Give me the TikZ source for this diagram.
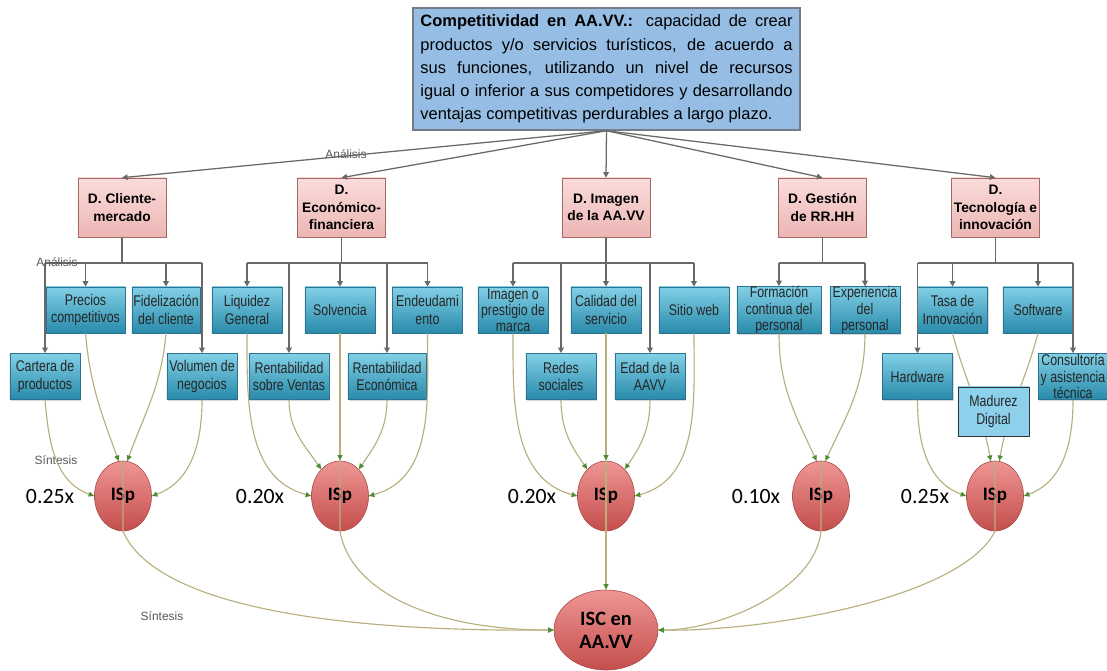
\documentclass[tikz,border=0pt]{standalone}
\usepackage{fontspec}
\setmainfont{Liberation Sans}
\newfontfamily\narrowsf[FakeStretch=0.8]{Liberation Sans}
\newfontfamily\calib{Carlito}
\usetikzlibrary{shapes.geometric, arrows.meta, shadows}

\definecolor{topfill}{RGB}{150,190,228}
\definecolor{topline}{RGB}{115,125,135}
\definecolor{dimtop}{RGB}{250,220,218}
\definecolor{dimbot}{RGB}{236,182,180}
\definecolor{dimline}{RGB}{165,105,103}
\definecolor{subtop}{RGB}{130,208,230}
\definecolor{subbot}{RGB}{40,138,170}
\definecolor{subline}{RGB}{45,115,145}
\definecolor{madfill}{RGB}{140,208,236}
\definecolor{isptop}{RGB}{238,150,148}
\definecolor{ispbot}{RGB}{196,78,76}
\definecolor{ispline}{RGB}{165,70,68}
\definecolor{linkline}{RGB}{185,175,125}
\definecolor{tipgreen}{RGB}{80,140,50}
\definecolor{treeline}{RGB}{105,105,105}

\tikzset{
    topbox/.style={
        rectangle, draw=topline, fill=topfill, line width=1pt,
        text width=9.3cm, inner xsep=0.19cm, minimum height=3.05cm,
        align=justify, font=\fontsize{11.7}{16.5}\selectfont
    },
    dimbox/.style={
        rectangle, draw=dimline, top color=dimtop, bottom color=dimbot,
        minimum width=2.2cm, minimum height=1.475cm, inner sep=1pt,
        align=center, font=\bfseries\fontsize{9.8}{12.5}\selectfont
    },
    subbox/.style={
        rectangle, draw=subline, top color=subtop, bottom color=subbot,
        minimum width=1.75cm, minimum height=1.15cm, inner sep=0.5pt,
        align=center, text=black!85, font=\narrowsf\fontsize{11}{12.5}\selectfont,
        drop shadow={shadow xshift=0.7pt, shadow yshift=-0.9pt, opacity=0.3}
    },
    tall/.style={inner ysep=0pt, font=\narrowsf\fontsize{11}{11.5}\selectfont},
    ispnode/.style={
        ellipse, draw=ispline, top color=isptop, bottom color=ispbot,
        minimum width=1.425cm, minimum height=1.75cm, inner sep=0pt,
        align=center, font=\calib\bfseries\fontsize{13.5}{13.5}\selectfont
    },
    weight/.style={font=\calib\fontsize{15.5}{15.5}\selectfont},
    steplabel/.style={font=\fontsize{8.5}{9}\selectfont, text=black!65},
    fan/.style={draw=treeline, line width=0.9pt, -{Triangle[length=4pt,width=4pt]}},
    tree/.style={draw=treeline, line width=1.1pt},
    treearrow/.style={tree, -{Triangle[length=4pt,width=4pt]}},
    link/.style={draw=linkline, line width=0.8pt, -{Triangle[length=4pt,width=3.5pt,color=tipgreen]}}
}

\begin{document}
\begin{tikzpicture}[x=0.025cm, y=0.025cm]
    \fill[white] (0,0) rectangle (1107,-671);
    \useasboundingbox (0,0) rectangle (1107,-671);

    % Definition
    \node[topbox] (top) at (606.5,-69) {{\bfseries Competitividad en AA.VV.:} capacidad de crear\linebreak
        productos y/o servicios turísticos, de acuerdo a\linebreak
        sus funciones, utilizando un nivel de recursos\linebreak
        igual o inferior a sus competidores y desarrollando\linebreak
        ventajas competitivas perdurables a largo plazo.};

    % Dimensions
    \node[dimbox] (dcli) at (122,-207.5)   {D. Cliente-\\mercado};
    \node[dimbox] (deco) at (341.5,-207.5) {D.\\Económico-\\financiera};
    \node[dimbox] (dima) at (606,-207.5)   {D. Imagen\\de la AA.VV};
    \node[dimbox] (dges) at (822.5,-207.5) {D. Gestión\\de RR.HH};
    \node[dimbox] (dtec) at (995.5,-207.5) {D.\\Tecnología e\\innovación};

    \foreach \d in {deco,dima,dges,dtec}
        \draw[fan] (top.south) -- (\d.north);
    \draw[fan] (top.south) -- (dcli.north);
    \node[steplabel] (an1) at (346,-154) {Análisis};

    % Indicators, first row
    \node[subbox, minimum width=1.975cm] (prec) at (85.5,-310) {Precios\\competitivos};
    \node[subbox, minimum width=1.7cm]   (fide) at (166,-310)  {Fidelización\\del cliente};
    \node[subbox] (liq)   at (247,-310)   {Liquidez\\General};
    \node[subbox] (solv)  at (340,-310)   {Solvencia};
    \node[subbox] (endeu) at (427.5,-310) {Endeudami\\ento};
    \node[subbox, tall] (imag) at (513,-310) {Imagen o\\prestigio de\\marca};
    \node[subbox] (cali)  at (606,-310)   {Calidad del\\servicio};
    \node[subbox] (sitio) at (694,-310)   {Sitio web};
    \node[subbox, tall, minimum width=2.1cm] (form) at (779,-310) {Formación\\continua del\\personal};
    \node[subbox, tall] (expe) at (865,-310) {Experiencia\\del\\personal};
    \node[subbox] (tasa)  at (952.5,-310) {Tasa de\\Innovación};
    \node[subbox] (soft)  at (1038,-310)  {Software};

    % Indicators, second row
    \node[subbox] (cart)  at (45,-376.5)  {Cartera de\\productos};
    \node[subbox] (vol)   at (202,-376.5) {Volumen de\\negocios};
    \node[subbox, minimum width=2cm]    (rven) at (289,-376.5) {Rentabilidad\\sobre Ventas};
    \node[subbox, minimum width=1.95cm] (reco) at (387,-376.5) {Rentabilidad\\Económica};
    \node[subbox] (redes) at (561,-376.5) {Redes\\sociales};
    \node[subbox] (edad)  at (650,-376.5) {Edad de la\\AAVV};
    \node[subbox] (hard)  at (917.5,-376.5) {Hardware};
    \node[subbox, tall, minimum width=1.725cm] (cons) at (1073,-376.5) {Consultoría\\y asistencia\\técnica};

    % Analysis trees
    \coordinate (lvl) at (0,-263);
    \draw[tree] (dcli.south) -- (dcli.south |- lvl);
    \draw[tree] (cart.north |- lvl) -- (vol.north |- lvl);
    \foreach \n in {cart,prec,fide,vol}
        \draw[treearrow] (\n.north |- lvl) -- (\n.north);
    \node[steplabel] (an2) at (57,-262) {Análisis};

    \draw[tree] (deco.south) -- (deco.south |- lvl);
    \draw[tree] (liq.north |- lvl) -- (endeu.north |- lvl);
    \foreach \n in {liq,rven,solv,reco,endeu}
        \draw[treearrow] (\n.north |- lvl) -- (\n.north);

    \draw[tree] (dima.south) -- (dima.south |- lvl);
    \draw[tree] (imag.north |- lvl) -- (sitio.north |- lvl);
    \foreach \n in {imag,redes,cali,edad,sitio}
        \draw[treearrow] (\n.north |- lvl) -- (\n.north);

    \draw[tree] (dges.south) -- (dges.south |- lvl);
    \draw[tree] (form.north |- lvl) -- (expe.north |- lvl);
    \foreach \n in {form,expe}
        \draw[treearrow] (\n.north |- lvl) -- (\n.north);

    \draw[tree] (dtec.south) -- (dtec.south |- lvl);
    \draw[tree] (hard.north |- lvl) -- (cons.north |- lvl);
    \foreach \n in {hard,tasa,soft,cons}
        \draw[treearrow] (\n.north |- lvl) -- (\n.north);

    % Partial indices
    \node[ispnode] (isp1) at (123,-496) {ISp};
    \node[ispnode] (isp2) at (340,-496) {ISp};
    \node[ispnode] (isp3) at (606,-496) {ISp};
    \node[ispnode] (isp4) at (821,-496) {ISp};
    \node[ispnode] (isp5) at (995,-496) {ISp};
    \node[ispnode, minimum width=2.6cm, minimum height=2cm,
          font=\calib\bfseries\fontsize{14.5}{16.5}\selectfont] (isc) at (606,-630) {ISC en\\AA.VV};

    \node[weight] (w1) at (50,-497)  {0.25x};
    \node[weight] (w2) at (260,-497) {0.20x};
    \node[weight] (w3) at (532,-497) {0.20x};
    \node[weight] (w4) at (756,-497) {0.10x};
    \node[weight] (w5) at (925,-497) {0.25x};
    \node[steplabel] (sin1) at (56,-460)  {Síntesis};
    \node[steplabel] (sin2) at (162,-616) {Síntesis};

    % Synthesis links
    \draw[link] (cart.south) to[out=-85,in=160] (isp1.west);
    \draw[link] (prec.south) to[out=-85,in=110] (isp1.97);
    \draw[link] (fide.south) to[out=-95,in=70] (isp1.83);
    \draw[link] (vol.south) to[out=-90,in=20] (isp1.east);

    \draw[link] (liq.south) to[out=-90,in=165] (isp2.west);
    \draw[link] (rven.south) to[out=-90,in=125] (isp2.125);
    \draw[link] (solv.south) -- (isp2.north);
    \draw[link] (reco.south) to[out=-90,in=55] (isp2.55);
    \draw[link] (endeu.south) to[out=-90,in=15] (isp2.east);

    \draw[link] (imag.south) to[out=-90,in=165] (isp3.west);
    \draw[link] (redes.south) to[out=-90,in=125] (isp3.125);
    \draw[link] (cali.south) -- (isp3.north);
    \draw[link] (edad.south) to[out=-90,in=55] (isp3.55);
    \draw[link] (sitio.south) to[out=-90,in=15] (isp3.east);

    \draw[link] (form.south) to[out=-90,in=115] (isp4.97);
    \draw[link] (expe.south) to[out=-90,in=65] (isp4.83);

    \draw[link] (hard.south) to[out=-90,in=160] (isp5.west);
    \draw[link] (tasa.south) to[out=-75,in=100] (isp5.97);
    \draw[link] (soft.south) to[out=-105,in=80] (isp5.83);
    \draw[link] (cons.south) to[out=-90,in=20] (isp5.east);

    % drawn over the links
    \node[subbox, draw=black!80, top color=madfill, bottom color=madfill,
          minimum width=1.775cm, minimum height=1.225cm] (madu) at (993.5,-411.5) {Madurez\\Digital};

    % Global index
    \draw[link] (isp1.north) -- (isp1.south) .. controls (155,-605) and (330,-632) .. (isc.west);
    \draw[link] (isp2.north) -- (isp2.south) .. controls (350,-590) and (430,-630) .. (isc.west);
    \draw[link] (isp3.north) -- (isc.north);
    \draw[link] (isp4.north) -- (isp4.south) .. controls (815,-590) and (720,-630) .. (isc.east);
    \draw[link] (isp5.north) -- (isp5.south) .. controls (960,-600) and (760,-632) .. (isc.east);
\end{tikzpicture}
\end{document}
